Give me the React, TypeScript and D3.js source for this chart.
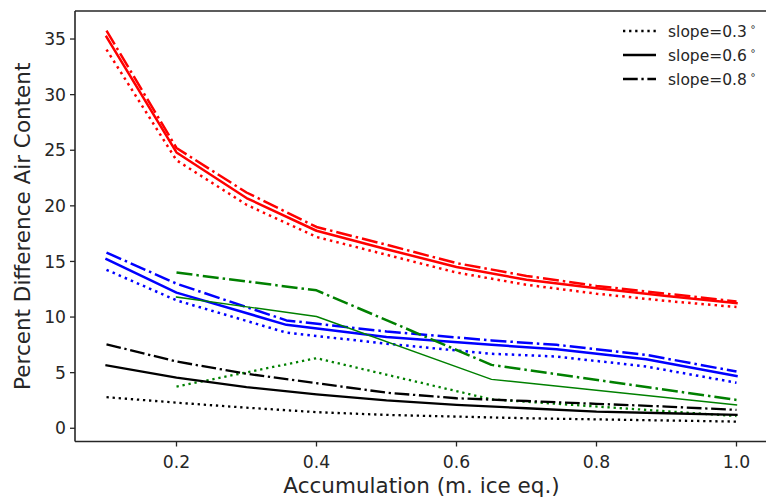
import React from "react";
import * as d3 from "d3";

// accumulation values (m ice eq.) for each group of runs
const xRed = [0.1, 0.2, 0.3, 0.4, 0.5, 0.6, 0.7, 0.8, 0.9, 1.0];
const xBlack = [0.1, 0.2, 0.3, 0.4, 0.5, 0.6, 0.7, 0.8, 0.9, 1.0];
const xBlue = [0.1, 0.2, 0.357, 0.5, 0.65, 0.743, 0.871, 1.0];
const xGreen = [0.2, 0.4, 0.65, 1.0];

// percent difference in air content, one array per slope
const red03 = [34.05, 24.1, 20.1, 17.2, 15.6, 14.0, 12.9, 12.1, 11.45, 10.9];
const red06 = [35.2, 24.8, 20.7, 17.76, 16.1, 14.5, 13.35, 12.6, 11.9, 11.25];
const red08 = [35.75, 25.2, 21.2, 18.1, 16.5, 14.85, 13.7, 12.8, 12.1, 11.4];

const blue03 = [14.25, 11.5, 8.6, 7.6, 6.7, 6.45, 5.55, 4.1];
const blue06 = [15.2, 12.2, 9.3, 8.2, 7.5, 7.1, 6.2, 4.7];
const blue08 = [15.8, 13.0, 9.7, 8.7, 7.9, 7.5, 6.6, 5.1];

const green03 = [3.75, 6.3, 2.6, 1.1];
const green06 = [11.8, 10.05, 4.4, 2.1];
const green08 = [14.0, 12.4, 5.7, 2.55];

const black03 = [2.8, 2.3, 1.85, 1.45, 1.2, 1.05, 0.9, 0.8, 0.7, 0.6];
const black06 = [5.65, 4.55, 3.7, 3.05, 2.5, 2.1, 1.8, 1.5, 1.35, 1.2];
const black08 = [7.55, 6.0, 4.9, 4.05, 3.2, 2.7, 2.45, 2.2, 1.95, 1.65];

const xTicks = [0.2, 0.4, 0.6, 0.8, 1.0];
const yTicks = [0, 5, 10, 15, 20, 25, 30, 35];
const legendLabels = ["slope=0.3", "slope=0.6", "slope=0.8"];

const W = 766;
const H = 498;
const left = 75, right = 768, top = 11, bottom = 441.5;

const x = d3.scaleLinear().domain([0.055, 1.045]).range([left, right]);
const y = d3.scaleLinear().domain([-1.19, 37.52]).range([bottom, top]);

// matplotlib-ish dash patterns scaled by line width
const dash = (style: string, lw: number) => {
  if (style === "dotted") return `${lw} ${1.65 * lw}`;
  if (style === "dashdot") return `${6.4 * lw} ${1.6 * lw} ${lw} ${1.6 * lw}`;
  return undefined;
};

const series = [
  { xs: xRed, ys: red03, color: "#ff0000", style: "dotted", lw: 2.5 },
  { xs: xRed, ys: red06, color: "#ff0000", style: "solid", lw: 2.5 },
  { xs: xRed, ys: red08, color: "#ff0000", style: "dashdot", lw: 2.5 },
  { xs: xBlue, ys: blue03, color: "#0000ff", style: "dotted", lw: 2.5 },
  { xs: xBlue, ys: blue06, color: "#0000ff", style: "solid", lw: 2.5 },
  { xs: xBlue, ys: blue08, color: "#0000ff", style: "dashdot", lw: 2.5 },
  { xs: xGreen, ys: green03, color: "#008000", style: "dotted", lw: 2.3 },
  { xs: xGreen, ys: green06, color: "#008000", style: "solid", lw: 1.4 },
  { xs: xGreen, ys: green08, color: "#008000", style: "dashdot", lw: 2.5 },
  { xs: xBlack, ys: black03, color: "#000000", style: "dotted", lw: 2.3 },
  { xs: xBlack, ys: black06, color: "#000000", style: "solid", lw: 2.3 },
  { xs: xBlack, ys: black08, color: "#000000", style: "dashdot", lw: 2.3 },
];

const line = d3
  .line<[number, number]>()
  .x((d) => x(d[0]))
  .y((d) => y(d[1]));

const font = "DejaVu Sans, Verdana, sans-serif";

export default function App() {
  const legendStyles = ["dotted", "solid", "dashdot"];
  return (
    <svg
      width={W}
      height={H}
      style={{ position: "absolute", left: 0, top: 0, background: "#fff" }}
      fontFamily={font}
    >
      <defs>
        <clipPath id="plot">
          <rect x={left} y={top} width={right - left} height={bottom - top} />
        </clipPath>
      </defs>
      <rect width={W} height={H} fill="#fff" />

      <g clipPath="url(#plot)">
        {series.map((s, i) => (
          <path
            key={i}
            d={line(s.xs.map((v, j) => [v, s.ys[j]] as [number, number])) || ""}
            fill="none"
            stroke={s.color}
            strokeWidth={s.lw}
            strokeDasharray={dash(s.style, s.lw)}
            strokeLinejoin="round"
            strokeLinecap={s.style === "solid" ? "square" : "butt"}
          />
        ))}
      </g>

      {/* spines */}
      <g stroke="#262626" strokeWidth={1.6} fill="none">
        <line x1={left} x2={left} y1={top} y2={bottom} />
        <line x1={left} x2={right} y1={bottom} y2={bottom} />
        <line x1={left} x2={right} y1={top} y2={top} />
        <line x1={right} x2={right} y1={top} y2={bottom} />
      </g>

      {/* x axis */}
      {xTicks.map((t) => (
        <g key={t}>
          <line x1={x(t)} x2={x(t)} y1={bottom} y2={bottom + 5} stroke="#262626" strokeWidth={1.3} />
          <text x={x(t)} y={467.5} textAnchor="middle" fontSize={17.2} fill="#262626">
            {t.toFixed(1)}
          </text>
        </g>
      ))}
      {/* y axis */}
      {yTicks.map((t) => (
        <g key={t}>
          <line x1={left - 5} x2={left} y1={y(t)} y2={y(t)} stroke="#262626" strokeWidth={1.3} />
          <text x={66} y={y(t) + 6.2} textAnchor="end" fontSize={17.2} fill="#262626">
            {t}
          </text>
        </g>
      ))}

      <text x={(left + right) / 2 - 0} y={493} textAnchor="middle" fontSize={21.5} fill="#262626">
        Accumulation (m. ice eq.)
      </text>
      <text
        transform={`translate(30, ${(top + bottom) / 2}) rotate(-90)`}
        textAnchor="middle"
        fontSize={21.5}
        fill="#262626"
      >
        Percent Difference Air Content
      </text>

      {/* legend */}
      {legendLabels.map((lab, i) => {
        const ly = 31 + i * 24;
        return (
          <g key={lab}>
            <line
              x1={623}
              x2={656}
              y1={ly}
              y2={ly}
              stroke="#000"
              strokeWidth={2.3}
              strokeDasharray={dash(legendStyles[i], 2.3)}
            />
            <text x={668} y={ly + 5.5} fontSize={15.5} fill="#262626">
              {lab}
              <tspan dx={3} dy={-7} fontSize={10}>
                ∘
              </tspan>
            </text>
          </g>
        );
      })}
    </svg>
  );
}
